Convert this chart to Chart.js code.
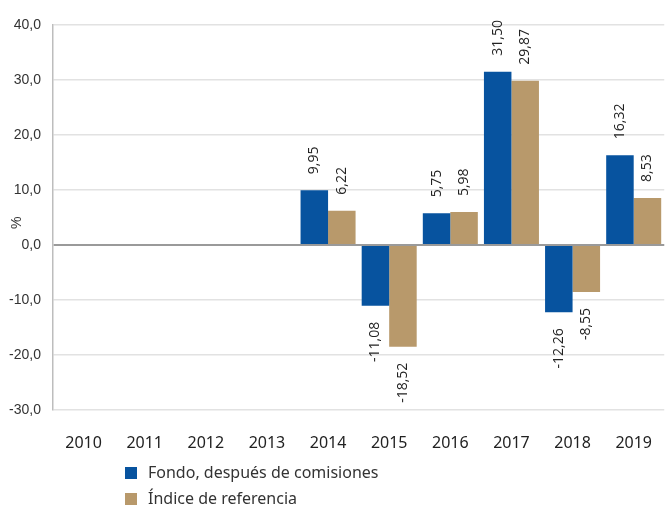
<!DOCTYPE html>
<html>
<head>
<meta charset="utf-8">
<script src="https://cdn.jsdelivr.net/npm/chart.js@4.4.1/dist/chart.umd.min.js"></script>
<style>
  body { margin: 0; background: #fff; overflow: hidden; }
  #wrap { position: relative; width: 665px; height: 507px; overflow: hidden; }
  #chartBox { position: absolute; left: 0; top: 0; width: 668px; height: 469px; }
  #legend { position: absolute; left: 125px; top: 459px; font-family: "Noto Sans", sans-serif; font-size: 16px; color: #333; }
  #legend div { height: 26px; line-height: 26px; }
  #legend span.sw { display: inline-block; width: 12px; height: 12px; margin-right: 11px; vertical-align: -1px; }
</style>
</head>
<body>
<div id="wrap">
  <div id="chartBox"><canvas id="chartReturns"></canvas></div>
  <div id="legend"></div>
</div>
<script>
// data
var years = ["2010", "2011", "2012", "2013", "2014", "2015", "2016", "2017", "2018", "2019"];
var fondo = [null, null, null, null, 9.95, -11.08, 5.75, 31.50, -12.26, 16.32];
var indice = [null, null, null, null, 6.22, -18.52, 5.98, 29.87, -8.55, 8.53];
var seriesNames = ["Fondo, después de comisiones", "Índice de referencia"];
var seriesColors = ["#07539f", "#b8996b"];
var yTitle = "%";

function fmt(v, d) {
  return v.toFixed(d).replace(".", ",");
}

// rotated value labels at the end of every bar, plus the "%" axis title
var barLabels = {
  id: "barLabels",
  afterDatasetsDraw: function (chart) {
    var ctx = chart.ctx;
    ctx.save();
    ctx.font = "14px 'Open Sans', sans-serif";
    ctx.fillStyle = "#222";
    chart.data.datasets.forEach(function (ds, i) {
      chart.getDatasetMeta(i).data.forEach(function (bar, j) {
        var v = ds.data[j];
        if (v === null) return;
        ctx.save();
        ctx.translate(bar.x, bar.y);
        ctx.rotate(-Math.PI / 2);
        ctx.textBaseline = "middle";
        if (v >= 0) {
          ctx.textAlign = "left";
          ctx.fillText(fmt(v, 2), 16, 0);
        } else {
          ctx.textAlign = "right";
          ctx.fillText(fmt(v, 2), -16, 0);
        }
        ctx.restore();
      });
    });
    // y axis title sits inside the tick label column
    var yScale = chart.scales.y;
    ctx.save();
    ctx.font = "14px 'Liberation Sans', sans-serif";
    ctx.fillStyle = "#333";
    ctx.translate(17, yScale.getPixelForValue(4));
    ctx.rotate(-Math.PI / 2);
    ctx.textAlign = "center";
    ctx.textBaseline = "middle";
    ctx.fillText(yTitle, 0, 0);
    ctx.restore();
    ctx.restore();
  }
};

var legendEl = document.getElementById("legend");
seriesNames.forEach(function (name, i) {
  var row = document.createElement("div");
  var sw = document.createElement("span");
  sw.className = "sw";
  sw.style.background = seriesColors[i];
  row.appendChild(sw);
  row.appendChild(document.createTextNode(name));
  legendEl.appendChild(row);
});

var ctx1 = document.getElementById("chartReturns").getContext("2d");
new Chart(ctx1, {
  type: "bar",
  data: {
    labels: years,
    datasets: [{
      label: seriesNames[0],
      data: fondo,
      backgroundColor: seriesColors[0],
      borderWidth: 0,
      categoryPercentage: 0.9,
      barPercentage: 1.0
    }, {
      label: seriesNames[1],
      data: indice,
      backgroundColor: seriesColors[1],
      borderWidth: 0,
      categoryPercentage: 0.9,
      barPercentage: 1.0
    }]
  },
  options: {
    responsive: true,
    maintainAspectRatio: false,
    animation: false,
    layout: {
      padding: { left: 0, right: 0, top: 25, bottom: 0 }
    },
    plugins: {
      legend: { display: false },
      tooltip: { enabled: false }
    },
    scales: {
      y: {
        min: -30,
        max: 40,
        afterFit: function (scale) { scale.width = 53; },
        border: { display: true, color: "#bdbdbd", width: 1.5 },
        grid: {
          drawTicks: false,
          color: function (c) { return c.tick.value === 0 ? "#9a9a9a" : "#e2e2e2"; },
          lineWidth: function (c) { return c.tick.value === 0 ? 2 : 1.5; }
        },
        ticks: {
          stepSize: 10,
          padding: 12,
          color: "#333",
          font: { size: 14, family: "'Liberation Sans', sans-serif" },
          callback: function (v) { return fmt(v, 1); }
        }
      },
      x: {
        border: { display: false },
        grid: { display: false },
        ticks: {
          padding: 16,
          color: "#222",
          font: { size: 16, family: "'Noto Sans', sans-serif" }
        }
      }
    }
  },
  plugins: [barLabels]
});
</script>
</body>
</html>
